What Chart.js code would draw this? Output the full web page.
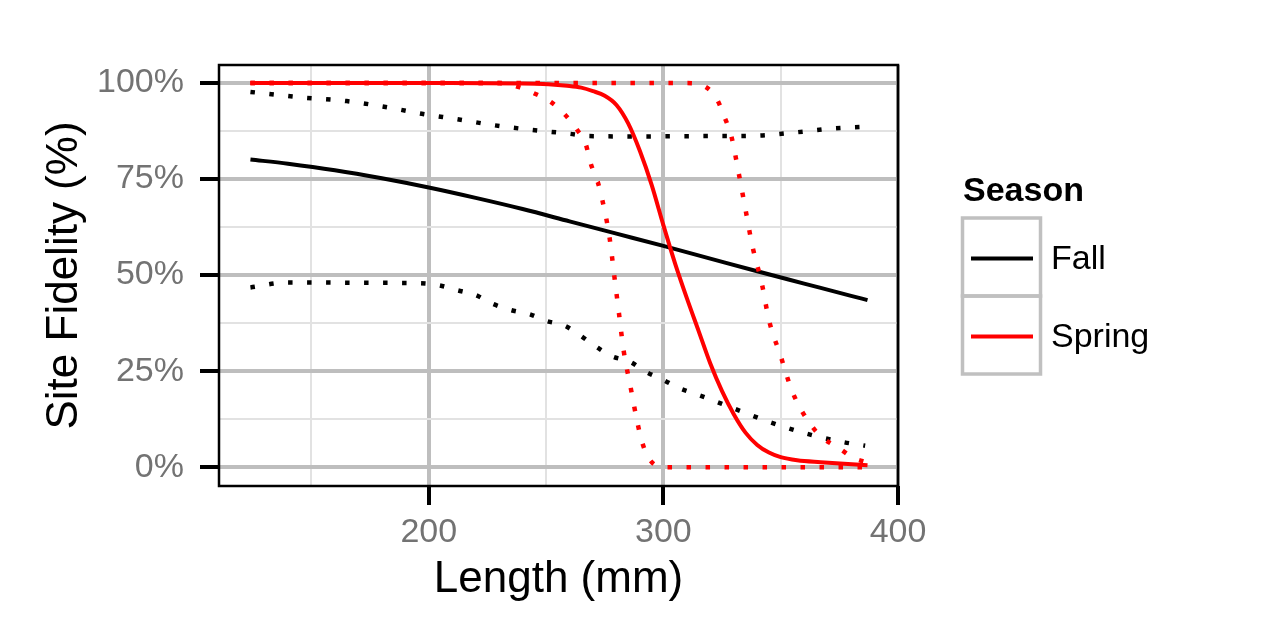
<!DOCTYPE html>
<html>
<head>
<meta charset="utf-8">
<title>Site Fidelity by Length</title>
<script src="https://cdn.jsdelivr.net/npm/chart.js@4.4.1/dist/chart.umd.min.js"></script>
<style>
  html, body { margin: 0; padding: 0; background: #fff; }
  #wrap { width: 1280px; height: 640px; }
</style>
</head>
<body>
<div id="wrap"><canvas id="fidelity_chart" width="1280" height="640"></canvas></div>
<script>
// values: length (mm) and site fidelity (%)
const fallX = [124, 140, 160, 180, 200, 220, 240, 260, 280, 300, 320, 340, 360, 380, 387]
const fallFit = [80.1, 79.0, 77.3, 75.2, 72.8, 70.1, 67.2, 64.0, 60.8, 57.6, 54.3, 51.0, 47.8, 44.6, 43.5]

const fallHiX = [124, 145, 165, 185, 197, 212, 228, 244, 260, 268, 290, 320, 340, 357, 373, 386]
const fallHi = [97.7, 96.3, 95.3, 93.4, 92.0, 90.6, 89.0, 87.8, 86.8, 86.2, 86.1, 86.2, 86.3, 87.2, 88.2, 88.6]

const fallLoX = [124, 140, 172, 196, 204, 212, 220, 227, 235, 243, 250, 258, 265, 271, 278, 286, 292, 300, 307, 315, 330, 345, 360, 376, 386]
const fallLo = [46.8, 48.1, 48.0, 47.9, 47.4, 46.1, 44.8, 42.6, 40.9, 39.8, 38.1, 36.8, 34.1, 31.5, 28.9, 27.4, 25.0, 22.7, 20.5, 18.8, 15.3, 11.8, 8.9, 6.6, 5.6]

const springX = [124, 200, 240, 251, 259, 265, 270, 275, 280, 285, 290, 295, 300, 305, 310, 315, 320, 325, 330, 335, 340, 345, 350, 357, 367, 377, 387]
const springFit = [100, 100, 99.9, 99.7, 99.3, 98.8, 97.9, 96.7, 94.3, 89.5, 82.3, 73.5, 63.0, 53.0, 44.0, 35.5, 27.0, 19.8, 13.8, 9.0, 5.8, 3.8, 2.6, 1.8, 1.3, 0.9, 0.5]

const springHiX = [124, 310, 318, 323, 326, 329, 332, 335, 338, 342, 345, 350, 355, 363, 368, 375, 381, 387]
const springHi = [100, 100, 99.0, 95.6, 91.2, 86.1, 76.9, 67.1, 57.4, 47.7, 38.3, 28.9, 19.6, 10.9, 7.6, 4.9, 2.4, 1.2]

const springLoX = [124, 230, 238, 245, 252, 258, 263, 267, 269, 272, 274, 277, 279, 281, 283, 286, 289, 291, 294, 300, 386]
const springLo = [100, 100, 99.0, 97.3, 95.1, 91.8, 88.0, 83.9, 79.1, 74.3, 69.5, 60.0, 50.2, 40.4, 30.6, 20.9, 11.4, 6.4, 2.1, 0, 0]

// axis ticks (minor ones get a grid line but no label)
const xTicks = [150, 200, 250, 300, 350, 400]
const xLabelTicks = [200, 300, 400]
const yTicks = [0, 12.5, 25, 37.5, 50, 62.5, 75, 87.5, 100]
const yLabelTicks = [0, 25, 50, 75, 100]

const seasons = ['Fall', 'Spring']

const FONT = '"Liberation Sans", Arial, Helvetica, sans-serif'
const seasonColor = { Fall: '#000000', Spring: '#ff0000' }

function toPoints(xs, ys) {
  return xs.map((x, i) => ({ x: x, y: ys[i] }))
}

function makeLine(label, xs, ys, season, dotted) {
  return {
    label: label,
    season: season,
    data: toPoints(xs, ys),
    borderColor: seasonColor[season],
    backgroundColor: seasonColor[season],
    borderWidth: dotted ? 4.5 : 4,
    borderDash: dotted ? [4.5, 14.5] : [],
    borderCapStyle: 'butt',
    pointRadius: 0,
    pointHoverRadius: 0,
    cubicInterpolationMode: 'monotone',
    fill: false,
  }
}

function isMajor(list, v) {
  return list.some(t => Math.abs(t - v) < 1e-6)
}

// full black panel border, drawn over the data like ggplot does
const panelBorder = {
  id: 'panelBorder',
  afterDatasetsDraw(chart) {
    const a = chart.chartArea
    const c = chart.ctx
    c.save()
    c.strokeStyle = '#000'
    c.lineWidth = 2.5
    c.strokeRect(a.left, a.top, a.right - a.left, a.bottom - a.top)
    c.restore()
  }
}

// legend with keys in grey boxes, only the fitted lines
const seasonLegend = {
  id: 'seasonLegend',
  afterDraw(chart) {
    const c = chart.ctx
    c.save()
    c.textAlign = 'left'
    c.textBaseline = 'middle'
    c.fillStyle = '#000'
    c.font = 'bold 34px ' + FONT
    c.fillText('Season', 963, 192)

    seasons.forEach((s, i) => {
      const ds = chart.data.datasets.find(d => d.season === s && d.borderDash.length === 0)
      const top = 218 + i * 78
      c.strokeStyle = '#c0c0c0'
      c.lineWidth = 3.5
      c.strokeRect(962.5, top, 78, 78)

      c.strokeStyle = ds.borderColor
      c.lineWidth = 4
      c.beginPath()
      c.moveTo(971, top + 40.5)
      c.lineTo(1033, top + 40.5)
      c.stroke()

      c.fillStyle = '#000'
      c.font = '34px ' + FONT
      c.fillText(ds.label, 1051, top + 42)
    })
    c.restore()
  }
}

function gridOpts(labelTicks) {
  return {
    color: ctx => isMajor(labelTicks, ctx.tick.value) ? '#bebebe' : '#e2e2e2',
    lineWidth: ctx => isMajor(labelTicks, ctx.tick.value) ? 4 : 2,
    tickColor: ctx => isMajor(labelTicks, ctx.tick.value) ? '#000' : 'rgba(0,0,0,0)',
    tickWidth: 4,
    tickLength: 19,
    drawTicks: true,
  }
}

function createChart(chartId) {
  const ctx = document.getElementById(chartId).getContext('2d')
  return new Chart(ctx, {
    type: 'line',
    data: {
      datasets: [
        // first dataset is drawn on top
        makeLine('Spring', springX, springFit, 'Spring', false),
        makeLine('Spring upper', springHiX, springHi, 'Spring', true),
        makeLine('Spring lower', springLoX, springLo, 'Spring', true),
        makeLine('Fall', fallX, fallFit, 'Fall', false),
        makeLine('Fall upper', fallHiX, fallHi, 'Fall', true),
        makeLine('Fall lower', fallLoX, fallLo, 'Fall', true),
      ]
    },
    options: {
      responsive: false,
      animation: false,
      events: [],
      layout: { padding: { top: 65, right: 382, bottom: 0, left: 0 } },
      scales: {
        x: {
          type: 'linear',
          position: 'bottom',
          min: 110.6,
          max: 400,
          afterBuildTicks: scale => { scale.ticks = xTicks.map(v => ({ value: v })) },
          afterFit: scale => { scale.height = 154 },
          grid: gridOpts(xLabelTicks),
          border: { display: false },
          ticks: {
            autoSkip: false,
            maxRotation: 0,
            padding: 7,
            color: '#737373',
            font: { family: FONT, size: 34 },
            callback: v => isMajor(xLabelTicks, v) ? String(v) : '',
          },
          title: {
            display: true,
            text: 'Length (mm)',
            color: '#000',
            font: { family: FONT, size: 44 },
            padding: { top: 0, bottom: 34 },
          },
        },
        y: {
          type: 'linear',
          position: 'left',
          min: -4.9,
          max: 104.7,
          afterBuildTicks: scale => { scale.ticks = yTicks.map(v => ({ value: v })) },
          afterFit: scale => { scale.width = 219 },
          grid: gridOpts(yLabelTicks),
          border: { display: false },
          ticks: {
            autoSkip: false,
            padding: 16,
            color: '#737373',
            font: { family: FONT, size: 34 },
            callback: v => isMajor(yLabelTicks, v) ? v + '%' : '',
          },
          title: {
            display: true,
            text: 'Site Fidelity (%)',
            color: '#000',
            font: { family: FONT, size: 44 },
            padding: { top: 38, bottom: 0 },
          },
        },
      },
      plugins: {
        legend: { display: false },
        tooltip: { enabled: false },
      },
    },
    plugins: [panelBorder, seasonLegend],
  })
}

createChart('fidelity_chart')
</script>
</body>
</html>
